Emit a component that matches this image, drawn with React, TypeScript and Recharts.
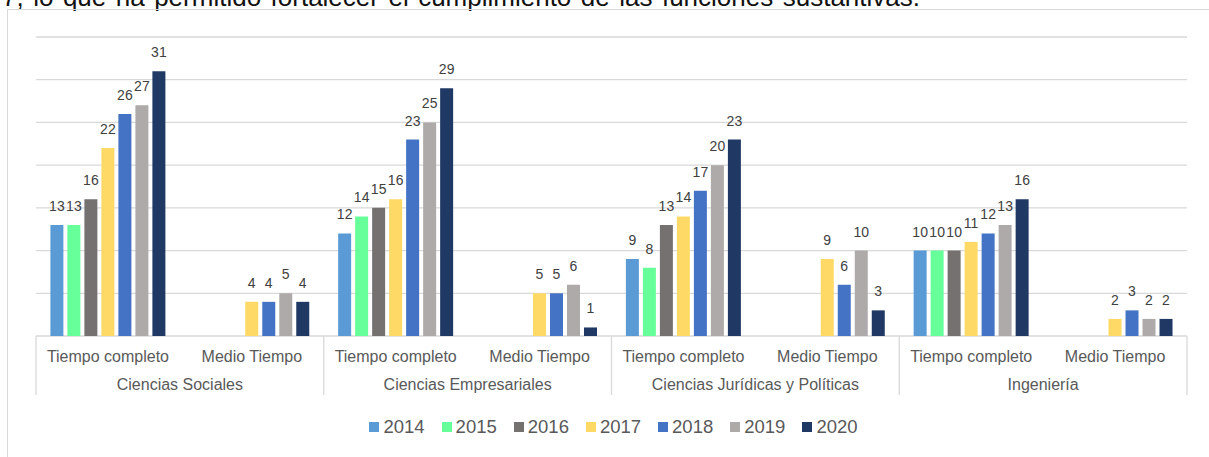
import React from 'react';
import { BarChart, Bar, XAxis, YAxis, CartesianGrid, LabelList, Legend } from 'recharts';

const GROUPS = ['Ciencias Sociales', 'Ciencias Empresariales', 'Ciencias Jurídicas y Políticas', 'Ingeniería'];
const SUBS = ['Tiempo completo', 'Medio Tiempo'];
const YEARS = ['2014', '2015', '2016', '2017', '2018', '2019', '2020'];
const COLORS = ['#5B9BD5', '#66FF99', '#767171', '#FFD966', '#4472C4', '#AEAAAA', '#203864'];

// one array per year, order: group x (Tiempo completo, Medio Tiempo)
const V2014 = [13, null, 12, null, 9, null, 10, null];
const V2015 = [13, null, 14, null, 8, null, 10, null];
const V2016 = [16, null, 15, null, 13, null, 10, null];
const V2017 = [22, 4, 16, 5, 14, 9, 11, 2];
const V2018 = [26, 4, 23, 5, 17, 6, 12, 3];
const V2019 = [27, 5, 25, 6, 20, 10, 13, 2];
const V2020 = [31, 4, 29, 1, 23, 3, 16, 2];
const SERIES = [V2014, V2015, V2016, V2017, V2018, V2019, V2020];
const Y_TICKS = [0, 5, 10, 15, 20, 25, 30, 35];

// text of the page above the chart, cut at the top edge in the screenshot
const TOP_TEXT = '7, lo que ha permitido fortalecer el cumplimiento de las funciones sustantivas.';

const FONT = '"Liberation Sans", Arial, sans-serif';
const W = 1209;
const H = 457;
const M = { top: 37, left: 36, right: 22, bottom: 61 };
const AXIS_Y = 336;
const BW = (W - M.left - M.right) / 8;
const LINE = '#D9D9D9';

const data = GROUPS.flatMap((g, gi) =>
  SUBS.map((s, si) => {
    const row: any = { group: g, sub: s };
    YEARS.forEach((y, yi) => { row['y' + y] = SERIES[yi][gi * 2 + si]; });
    return row;
  })
);

const CatTick = (props: any) => {
  const { x, index, payload } = props;
  const even = index % 2 === 0;
  return (
    <g>
      <text x={x} y={361.5} textAnchor="middle" fill="#595959" fontSize={16} fontFamily={FONT}>
        {payload.value}
      </text>
      {even && (
        <>
          <line x1={x - BW / 2} x2={x - BW / 2} y1={AXIS_Y} y2={395} stroke={LINE} strokeWidth={1.3} />
          <text x={x + BW / 2} y={390} textAnchor="middle" fill="#595959" fontSize={16} fontFamily={FONT}>
            {data[index].group}
          </text>
        </>
      )}
      {index === data.length - 1 && (
        <line x1={x + BW / 2} x2={x + BW / 2} y1={AXIS_Y} y2={395} stroke={LINE} strokeWidth={1.3} />
      )}
    </g>
  );
};

const LegendBox = () => (
  <div style={{ display: 'flex', justifyContent: 'center', alignItems: 'center', gap: 17, paddingLeft: 4 }}>
    {YEARS.map((y, i) => (
      <div key={y} style={{ display: 'flex', alignItems: 'center' }}>
        <span style={{ display: 'inline-block', width: 10, height: 10, background: COLORS[i], marginRight: 4 }} />
        <span style={{ fontFamily: FONT, fontSize: 18.5, lineHeight: '18.5px', color: '#595959' }}>{y}</span>
      </div>
    ))}
  </div>
);

export default function App() {
  return (
    <div style={{ position: 'absolute', left: 0, top: 0, width: W, height: H, overflow: 'hidden', background: '#fff' }}>
      <div
        style={{
          position: 'absolute', left: 2, top: -16, width: 918,
          fontFamily: FONT, fontSize: 26, lineHeight: '26px', color: '#111',
          whiteSpace: 'nowrap', textAlign: 'justify', textAlignLast: 'justify',
        }}
      >
        {TOP_TEXT}
      </div>
      <div style={{ position: 'absolute', left: 7, top: 9, width: 1400, height: 800, border: `1px solid ${LINE}` }} />
      <div style={{ position: 'absolute', left: 0, top: 0 }}>
        <BarChart width={W} height={H} data={data} margin={M} barCategoryGap="10%" barGap={4}>
          <CartesianGrid vertical={false} stroke={LINE} strokeWidth={1.3} />
          <YAxis hide domain={[0, 35]} ticks={Y_TICKS} />
          <XAxis dataKey="sub" height={60} axisLine={false} tickLine={false} interval={0} tick={<CatTick />} />
          <Legend
            layout="horizontal"
            verticalAlign="middle"
            align="center"
            wrapperStyle={{ top: 418, left: M.left, width: W - M.left - M.right }}
            content={<LegendBox />}
          />
          {YEARS.map((y, i) => (
            <Bar key={y} dataKey={'y' + y} fill={COLORS[i]} isAnimationActive={false}>
              <LabelList
                dataKey={'y' + y}
                position="top"
                offset={14}
                fill="#404040"
                fontSize={14}
                fontFamily={FONT}
                formatter={(v: any) => (v == null ? '' : v)}
              />
            </Bar>
          ))}
        </BarChart>
      </div>
    </div>
  );
}
